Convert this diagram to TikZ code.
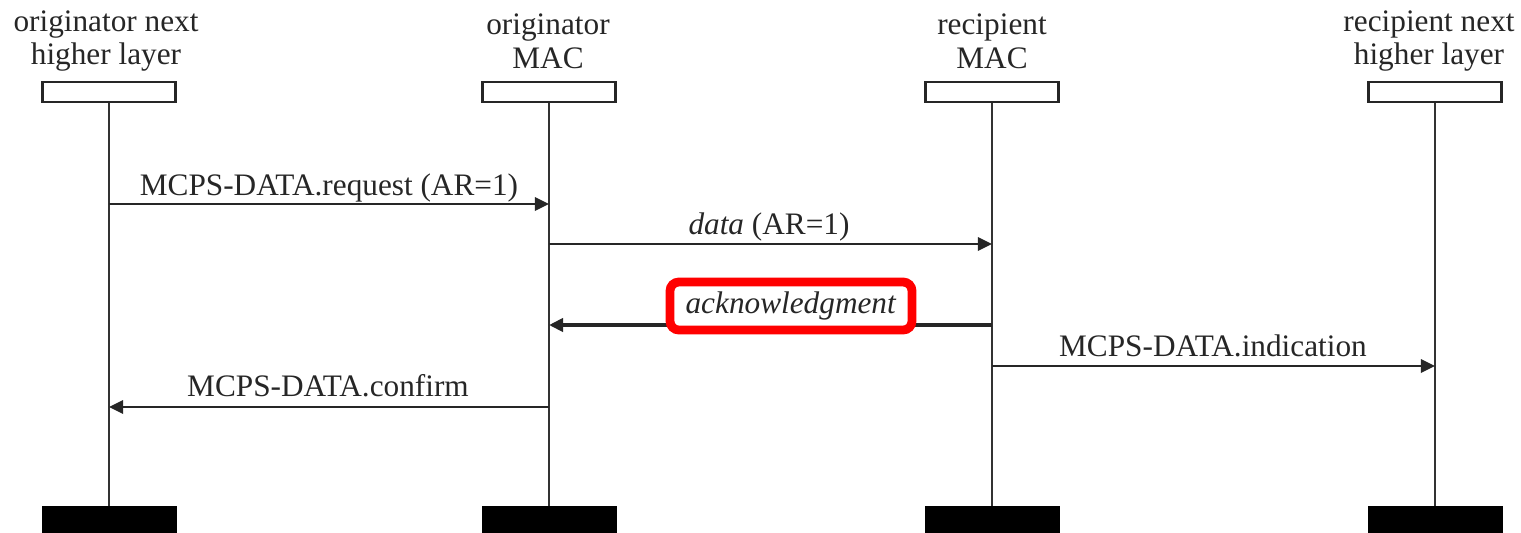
\documentclass[tikz,border=0pt]{standalone}
\usepackage{fontspec}
\setmainfont{Liberation Serif}
\usepackage{xcolor}
\usetikzlibrary{positioning,arrows.meta}

\begin{document}
\begin{tikzpicture}
            [x=0.02cm,y=-0.02cm,
             every node/.style={font=\fontsize{17.8pt}{19.3pt}\selectfont, text=black!85, inner sep=0pt},
             head/.style={draw=black!85, line width=1.6pt, fill=white, minimum width=2.66cm, minimum height=0.4cm},
             foot/.style={draw=black, fill=black, minimum width=2.68cm, minimum height=0.8cm},
             title/.style={align=center},
             life/.style={draw=black!80, line width=1.3pt},
             msg/.style={draw=black!85, line width=1.6pt, -{Triangle[length=8pt,width=7.5pt]}},
             lbl/.style={anchor=base},
             hilite/.style={draw=red, line width=5pt, rounded corners=5pt, fill=white, minimum width=4.84cm, minimum height=0.96cm}]
            \useasboundingbox (0,0) rectangle (1521,532);

            \node[head] (h1) at (109,92) {};
            \node[head] (h2) at (549,92) {};
            \node[head] (h3) at (992,92) {};
            \node[head] (h4) at (1435,92) {};
            \node[foot] (f1) at (109,526) {};
            \node[foot] (f2) at (549,526) {};
            \node[foot] (f3) at (992,526) {};
            \node[foot] (f4) at (1435,526) {};

            \node[title] (t1) at (106,41) {originator next\\higher layer};
            \node[title] (t2) at (548,41) {originator\\MAC};
            \node[title] (t3) at (992,41) {recipient\\MAC};
            \node[title] (t4) at (1429,41) {recipient next\\higher layer};

            \foreach \from/\to in {h1/f1, h2/f2, h3/f3, h4/f4}
            \draw[life] (\from) -- (\to);

            \foreach \from/\to/\y in {h1/h2/204, h2/h3/244, h3/h4/366, h2/h1/407}
            \draw[msg] (\from |- 0,\y) -- (\to |- 0,\y);
            \draw[msg, line width=2.4pt] (h3 |- 0,325) -- (h2 |- 0,325);

            \node[lbl] (l1) at (329,195) {MCPS-DATA.request (AR=1)};
            \node[lbl] (l2) at (769,234) {\textit{data} (AR=1)};
            \node[hilite] (l3) at (791,306) {\textit{acknowledgment}};
            \node[lbl] (l4) at (1213,356) {MCPS-DATA.indication};
            \node[lbl] (l5) at (328,396) {MCPS-DATA.confirm};
          \end{tikzpicture}
\end{document}
